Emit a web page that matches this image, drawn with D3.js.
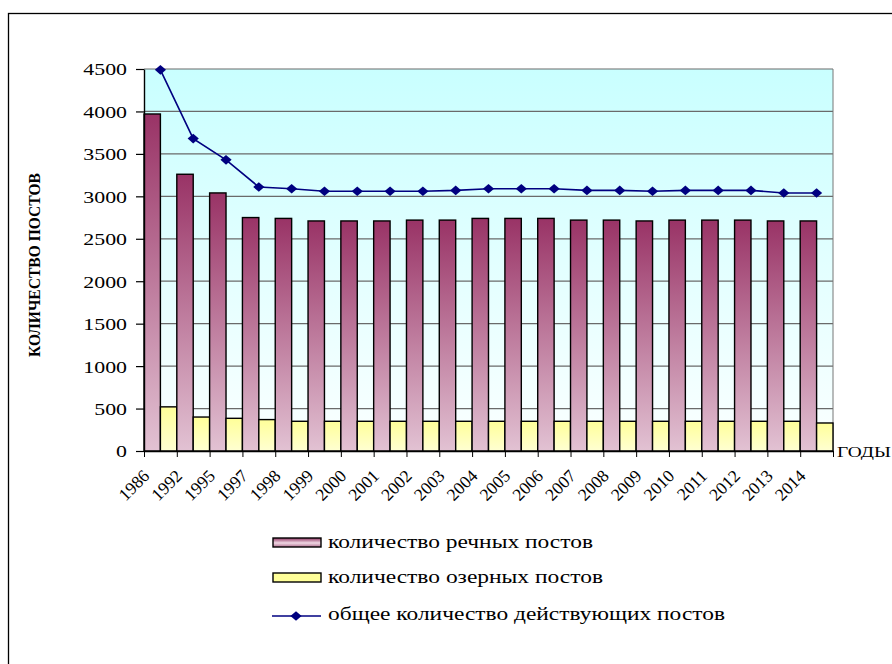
<!DOCTYPE html>
<html>
<head>
<meta charset="utf-8">
<script src="https://cdn.jsdelivr.net/npm/d3@7"></script>
<style>
body { margin: 0; background: #fff; }
svg { display: block; }
</style>
</head>
<body>
<svg id="chart" width="892" height="664"></svg>
<script>
// data
var years = ["1986", "1992", "1995", "1997", "1998", "1999", "2000", "2001", "2002", "2003", "2004",
             "2005", "2006", "2007", "2008", "2009", "2010", "2011", "2012", "2013", "2014"];
var river = [3970, 3260, 3040, 2750, 2740, 2710, 2710, 2710, 2720, 2720, 2740,
             2740, 2740, 2720, 2720, 2710, 2720, 2720, 2720, 2710, 2710];
var lake = [520, 400, 385, 370, 350, 350, 350, 350, 350, 350, 350,
            350, 350, 350, 350, 350, 350, 350, 350, 350, 330];
var total = [4490, 3680, 3430, 3110, 3090, 3060, 3060, 3060, 3060, 3070, 3090,
             3090, 3090, 3070, 3070, 3060, 3070, 3070, 3070, 3040, 3040];
var yTicks = [0, 500, 1000, 1500, 2000, 2500, 3000, 3500, 4000, 4500];
var legendNames = ["количество речных постов", "количество озерных постов", "общее количество действующих постов"];

const serif = '"Liberation Serif", "Times New Roman", "DejaVu Serif", serif';
const margin = {top: 69, left: 144, right: 59, bottom: 213};
var width = 892 - margin.left - margin.right;
var height = 664 - margin.top - margin.bottom;

var svg = d3.select('#chart').attr('font-family', serif);
var defs = svg.append('defs');

function vgrad(id, stops) {
  var g = defs.append('linearGradient').attr('id', id)
    .attr('x1', 0).attr('y1', 0).attr('x2', 0).attr('y2', 1);
  stops.forEach(function(s) {
    g.append('stop').attr('offset', s[0]).attr('stop-color', s[1]);
  });
}
vgrad('bg', [[0, '#c9ffff'], [1, '#fbffff']]);
vgrad('gRiver', [[0, '#993366'], [1, '#e2c2d3']]);
vgrad('gLake', [[0, '#ffff99'], [1, '#ffffd2']]);
vgrad('gRiverLeg', [[0, '#8e3260'], [0.55, '#f0d8e4'], [1, '#b0708f']]);

// outer frame (runs off the page right and bottom)
svg.append('rect')
  .attr('x', 8.5).attr('y', 13.5)
  .attr('width', 900).attr('height', 700)
  .attr('fill', 'none').attr('stroke', '#000').attr('stroke-width', 1.3);

var chart = svg.append('g')
  .attr('transform', 'translate(' + margin.left + ',' + margin.top + ')');

var y = d3.scaleLinear().domain([0, 4500]).range([height, 0]);
var x = d3.scaleBand().domain(years).range([0, width]);
var xs = d3.scaleBand().domain(['river', 'lake']).range([0, x.bandwidth()]);
var xl = d3.scaleLinear().domain([0, years.length]).range([0, width]);

chart.append('rect')
  .attr('width', width).attr('height', height)
  .attr('fill', 'url(#bg)');

chart.selectAll('.grid')
  .data(yTicks.slice(1))
  .enter()
  .append('line')
    .attr('class', 'grid')
    .attr('x1', 0).attr('x2', width)
    .attr('y1', (d) => y(d)).attr('y2', (d) => y(d))
    .attr('stroke', '#6a6a6a').attr('stroke-width', 1.2);

chart.append('line')
  .attr('x1', width).attr('x2', width).attr('y1', 0).attr('y2', height)
  .attr('stroke', '#777').attr('stroke-width', 1);

// bars
var groups = chart.selectAll('.year')
  .data(years)
  .enter()
  .append('g')
    .attr('class', 'year')
    .attr('transform', (d) => 'translate(' + x(d) + ',0)');

groups.append('rect')
  .attr('x', xs('river'))
  .attr('y', (d, i) => y(river[i]))
  .attr('width', xs.bandwidth())
  .attr('height', (d, i) => height - y(river[i]))
  .attr('fill', 'url(#gRiver)')
  .attr('stroke', '#000').attr('stroke-width', 1.4);

groups.append('rect')
  .attr('x', xs('lake'))
  .attr('y', (d, i) => y(lake[i]))
  .attr('width', xs.bandwidth())
  .attr('height', (d, i) => height - y(lake[i]))
  .attr('fill', 'url(#gLake)')
  .attr('stroke', '#000').attr('stroke-width', 1.4);

// total line
var line = d3.line()
  .x((d, i) => x(years[i]) + x.bandwidth() / 2)
  .y((d) => y(d));

chart.append('path')
  .datum(total)
  .attr('d', line)
  .attr('fill', 'none')
  .attr('stroke', '#000080').attr('stroke-width', 1.6);

var diamond = 'M0,-4.8L5.6,0L0,4.8L-5.6,0Z';
chart.selectAll('.marker')
  .data(total)
  .enter()
  .append('path')
    .attr('class', 'marker')
    .attr('d', diamond)
    .attr('transform', (d, i) => 'translate(' + (x(years[i]) + x.bandwidth() / 2) + ',' + y(d) + ')')
    .attr('fill', '#000080');

// axes
var yAxis = chart.append('g')
  .call(d3.axisLeft(y).tickValues(yTicks).tickFormat(d3.format('d')).tickSize(8).tickSizeOuter(0))
  .attr('font-family', serif);
yAxis.select('.domain').attr('stroke', '#000').attr('stroke-width', 1.4);
yAxis.selectAll('.tick line').attr('stroke', '#000').attr('stroke-width', 1.2);
yAxis.selectAll('.tick text')
  .attr('x', null).attr('dy', '0.34em')
  .attr('transform', 'translate(-17,0) scale(1.25,1)')
  .attr('font-size', 17.5).attr('fill', '#000');

var xAxis = chart.append('g')
  .attr('transform', 'translate(0,' + height + ')')
  .call(d3.axisBottom(xl).tickValues(d3.range(years.length + 1))
    .tickFormat((i) => years[i] || '').tickSize(6).tickSizeOuter(0))
  .attr('font-family', serif);
xAxis.select('.domain').attr('stroke', '#000').attr('stroke-width', 1.5);
xAxis.selectAll('.tick line').attr('stroke', '#000').attr('stroke-width', 1);
xAxis.selectAll('.tick text')
  .attr('x', null).attr('y', null).attr('dy', null)
  .attr('text-anchor', 'end')
  .attr('transform', 'translate(6,26) rotate(-45)')
  .attr('font-size', 17.5).attr('fill', '#000');

// axis titles
svg.append('text')
  .attr('transform', 'translate(40,265) scale(1.25,1) rotate(-90)')
  .attr('text-anchor', 'middle')
  .attr('font-size', 14).attr('font-weight', 'bold')
  .attr('textLength', 184).attr('lengthAdjust', 'spacingAndGlyphs')
  .text('КОЛИЧЕСТВО ПОСТОВ');

svg.append('text')
  .attr('transform', 'translate(837,457) scale(1.25,1)')
  .attr('font-size', 15.5)
  .text('ГОДЫ');

// legend
var legend = svg.append('g');
legend.append('rect')
  .attr('x', 273).attr('y', 538).attr('width', 48).attr('height', 9)
  .attr('fill', 'url(#gRiverLeg)').attr('stroke', '#000').attr('stroke-width', 1.4);
legend.append('rect')
  .attr('x', 273).attr('y', 573).attr('width', 48).attr('height', 9)
  .attr('fill', '#ffff99').attr('stroke', '#000').attr('stroke-width', 1.4);
legend.append('line')
  .attr('x1', 272).attr('x2', 321).attr('y1', 616).attr('y2', 616)
  .attr('stroke', '#000080').attr('stroke-width', 1.6);
legend.append('path')
  .attr('d', diamond)
  .attr('transform', 'translate(296,616)')
  .attr('fill', '#000080');

var legY = [548, 583, 620];
var legW = [265, 275, 397];
legend.selectAll('.ltext')
  .data(legendNames)
  .enter()
  .append('text')
    .attr('class', 'ltext')
    .attr('x', 328)
    .attr('y', (d, i) => legY[i])
    .attr('textLength', (d, i) => legW[i])
    .attr('lengthAdjust', 'spacingAndGlyphs')
    .attr('font-size', 18)
    .text((d) => d);
</script>
</body>
</html>
